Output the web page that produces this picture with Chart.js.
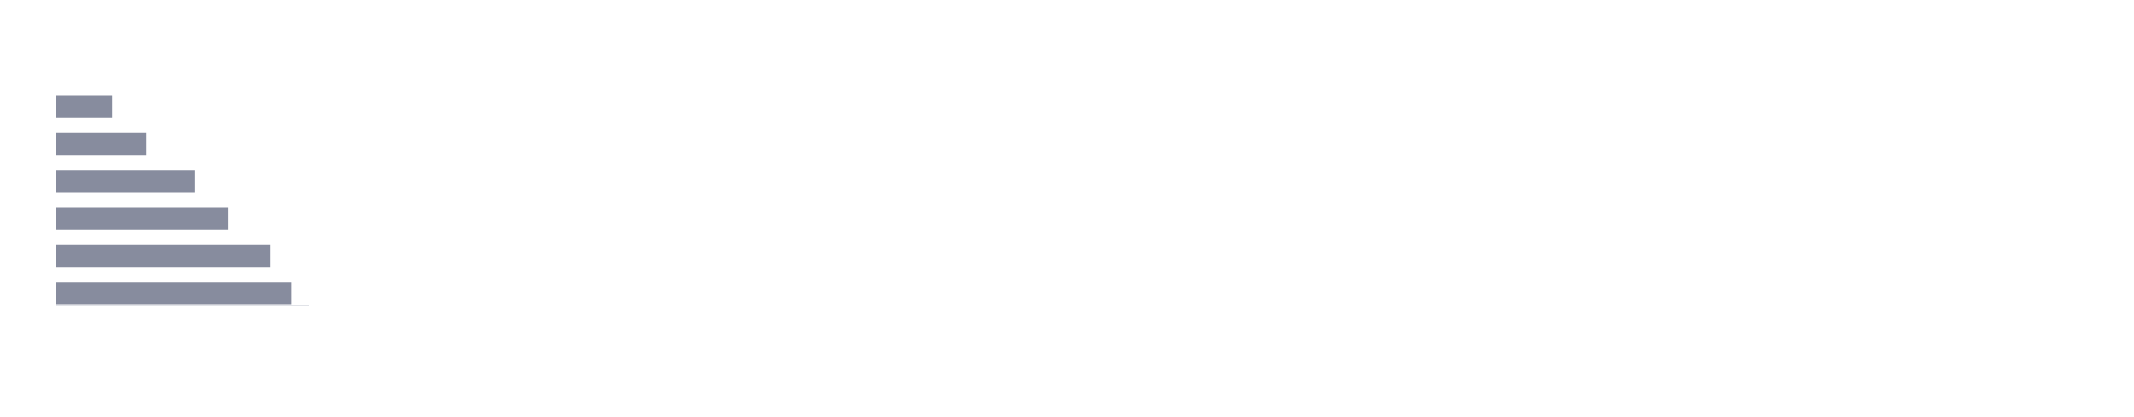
<!DOCTYPE html>
<html>
<head>
<meta charset="utf-8">
<script src="https://cdn.jsdelivr.net/npm/chart.js@4/dist/chart.umd.min.js"></script>
<style>
  html, body { margin: 0; padding: 0; background: #ffffff; }
  canvas { display: block; }
</style>
</head>
<body>
<canvas id="barChart" width="2134" height="417"></canvas>
<script>
// categories top to bottom
const categories = ['A', 'B', 'C', 'D', 'E', 'F']
const values = [22.3, 35.8, 55.1, 68.3, 85.0, 93.4]
const valueMax = 100

const barColor = '#878c9e'

new Chart(document.getElementById('barChart'), {
  type: 'bar',
  data: {
    labels: categories,
    datasets: [
      {
        data: values,
        backgroundColor: barColor,
        borderWidth: 0,
        categoryPercentage: 1,
        barPercentage: 0.6
      }
    ]
  },
  options: {
    indexAxis: 'y',
    responsive: false,
    devicePixelRatio: 1,
    animation: false,
    layout: {
      padding: { top: 88, bottom: 105, left: 56, right: 1826 }
    },
    plugins: {
      legend: { display: false },
      tooltip: { enabled: false }
    },
    scales: {
      x: {
        // axis line sits just under the last bar
        position: { y: 5.32 },
        min: 0,
        max: valueMax,
        ticks: { display: false },
        grid: { display: false, drawTicks: false },
        border: { display: true, color: '#e1e3e8', width: 1 }
      },
      y: {
        display: false,
        offset: true
      }
    }
  }
})
</script>
</body>
</html>
